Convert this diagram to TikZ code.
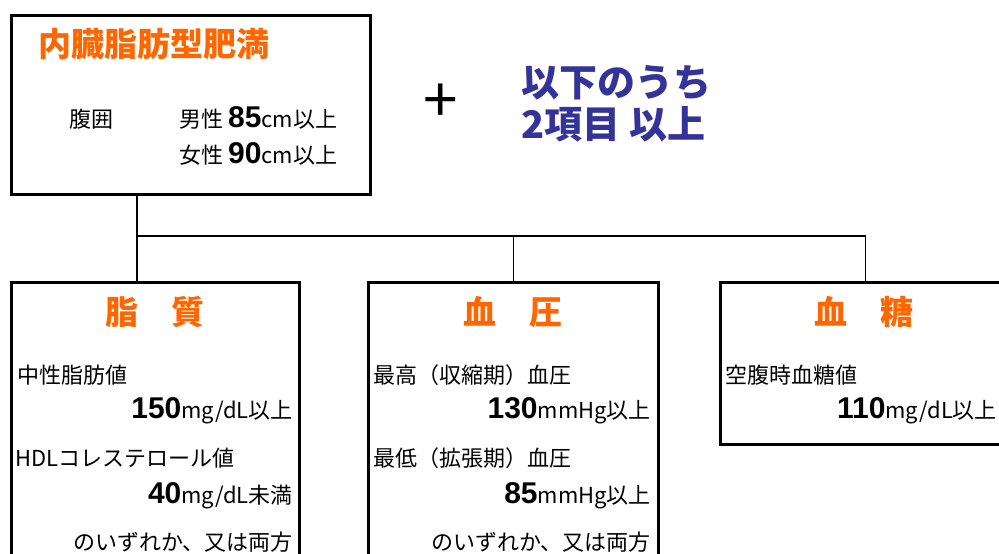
\documentclass[tikz,border=0pt]{standalone}
\usepackage{fontspec}
\setmainfont{Noto Sans CJK JP}
\newfontfamily\numfont{Liberation Sans}
\usepackage{xcolor}
\usetikzlibrary{positioning,calc}
\definecolor{titleorange}{HTML}{FF6600}
\definecolor{ruleblue}{HTML}{333399}
\newcommand{\bignum}[1]{{\fontsize{30}{30}\selectfont\numfont\bfseries #1}}
\tikzset{
  frame/.style={rectangle, draw=black, line width=3pt, anchor=north west, inner sep=0pt},
  boxtitle/.style={text=titleorange, inner sep=0pt, font=\fontsize{33}{35}\selectfont\bfseries},
  item/.style={inner sep=0pt, font=\fontsize{22}{24}\selectfont},
  conn/.style={line width=1.3pt}
}
\begin{document}
\begin{tikzpicture}[x=1pt, y=-1pt]
\clip (0,0) rectangle (999,554);
% main criterion
\node[frame, minimum width=359pt, minimum height=179pt] (obesity) at (10,14) {};
\node[boxtitle, anchor=west] (obesitytitle) at (38,44) {内臓脂肪型肥満};
\node[item, anchor=west] (waist) at (69,119) {腹囲};
\node[item, anchor=base west] (male) at (179,127) {男性 \bignum{85}cm以上};
\node[item, anchor=base west] (female) at (179,163) {女性 \bignum{90}cm以上};
\node[inner sep=0pt, font=\fontsize{62}{62}\selectfont] (plus) at (441,103) {+};
\node[inner sep=0pt, text=ruleblue, align=left, anchor=west, font=\fontsize{38}{42}\selectfont\bfseries] (rule) at (521,104) {以下のうち\\2項目 以上};
% sub criteria
\node[frame, minimum width=288pt, minimum height=330pt] (lipid) at (10,281) {};
\node[frame, minimum width=290pt, minimum height=330pt] (pressure) at (367,281) {};
\node[frame, minimum width=290pt, minimum height=162pt] (sugar) at (719,281) {};
\node[boxtitle] (lipidtitle) at (155,312) {脂　質};
\node[item, anchor=west] (tg) at (17,375) {中性脂肪値};
\node[item, anchor=base east] (tgval) at (293,418) {\bignum{150}mg/dL以上};
\node[item, anchor=west] (hdl) at (15,458) {HDLコレステロール値};
\node[item, anchor=base east] (hdlval) at (293,503) {\bignum{40}mg/dL未満};
\node[item, anchor=east] (lipidor) at (293,542) {のいずれか、又は両方};
\node[boxtitle] (pressuretitle) at (513,312) {血　圧};
\node[item, anchor=west] (sys) at (373,375) {最高（収縮期）血圧};
\node[item, anchor=base east] (sysval) at (651,418) {\bignum{130}mmHg以上};
\node[item, anchor=west] (dia) at (373,458) {最低（拡張期）血圧};
\node[item, anchor=base east] (diaval) at (651,503) {\bignum{85}mmHg以上};
\node[item, anchor=east] (pressureor) at (651,542) {のいずれか、又は両方};
\node[boxtitle] (sugartitle) at (864,312) {血　糖};
\node[item, anchor=west] (fbs) at (725,375) {空腹時血糖値};
\node[item, anchor=base west] (fbsval) at (837,418) {\bignum{110}mg/dL以上};
% connectors
\coordinate (split) at (137,236);
\draw[conn] (obesity.south -| split) -- (split) -- (lipid.north -| split);
\draw[conn] (split) -- (split -| sugar.north) -- (sugar.north);
\draw[conn] (split -| pressure.north) -- (pressure.north);
\end{tikzpicture}
\end{document}
